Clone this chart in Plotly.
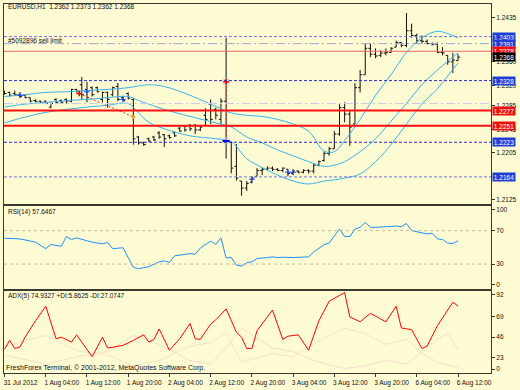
import plotly.graph_objects as go

# ---------------- data ----------------
bar_index = list(range(89))
tick_idx = [0, 8, 16, 24, 32, 40, 48, 56, 64, 72, 80, 88]
tick_text = ["31 Jul 2012", "1 Aug 04:00", "1 Aug 12:00", "1 Aug 20:00", "2 Aug 04:00",
             "2 Aug 12:00", "2 Aug 20:00", "3 Aug 04:00", "3 Aug 12:00", "3 Aug 20:00",
             "6 Aug 04:00", "6 Aug 12:00"]

opens = [1.2309, 1.2308, 1.2306, 1.2304, 1.2303, 1.2299, 1.2294, 1.2293, 1.2293, 1.2283,
         1.2296, 1.2294, 1.2296, 1.2293, 1.2313, 1.2321, 1.2313, 1.2316, 1.2316, 1.2296,
         1.2308, 1.2304, 1.2318, 1.2299, 1.2306, 1.2296, 1.2232, 1.2222, 1.2229, 1.2232,
         1.2239, 1.2236, 1.2234, 1.2239, 1.2247, 1.2251, 1.2252, 1.2252, 1.2244, 1.2269,
         1.2288, 1.2279, 1.2262, 1.2293, 1.2224, 1.2182, 1.2157, 1.2145, 1.2155, 1.2165,
         1.2175, 1.2177, 1.2179, 1.2177, 1.2175, 1.2177, 1.2170, 1.2174, 1.2172, 1.2175,
         1.2174, 1.2184, 1.2192, 1.2204, 1.2212, 1.2237, 1.2282, 1.2271, 1.2254, 1.2316,
         1.2338, 1.2383, 1.2373, 1.2371, 1.2375, 1.2376, 1.2385, 1.2393, 1.2388, 1.2413,
         1.2405, 1.2396, 1.2395, 1.2391, 1.2390, 1.2376, 1.2371, 1.2360, 1.2362]
highs = [1.2311, 1.2309, 1.2311, 1.2308, 1.2304, 1.2299, 1.2296, 1.2294, 1.2294, 1.2291,
         1.2298, 1.2296, 1.2298, 1.2314, 1.2314, 1.2334, 1.2326, 1.2318, 1.2318, 1.2309,
         1.2309, 1.2318, 1.2324, 1.2301, 1.2308, 1.2298, 1.2234, 1.2224, 1.2231, 1.2234,
         1.2242, 1.2237, 1.2236, 1.2241, 1.2249, 1.2252, 1.2254, 1.2254, 1.2251, 1.2281,
         1.2296, 1.2282, 1.2298, 1.2401, 1.2224, 1.2220, 1.2157, 1.2157, 1.2165, 1.2179,
         1.2180, 1.2182, 1.2182, 1.2179, 1.2180, 1.2177, 1.2177, 1.2175, 1.2177, 1.2177,
         1.2187, 1.2192, 1.2207, 1.2215, 1.2242, 1.2288, 1.2291, 1.2276, 1.2324, 1.2346,
         1.2391, 1.2391, 1.2383, 1.2380, 1.2383, 1.2385, 1.2396, 1.2393, 1.2443, 1.2425,
         1.2408, 1.2405, 1.2398, 1.2393, 1.2393, 1.2385, 1.2371, 1.2375, 1.2373]
lows = [1.2304, 1.2301, 1.2303, 1.2299, 1.2298, 1.2291, 1.2291, 1.2289, 1.2288, 1.2281,
        1.2288, 1.2289, 1.2289, 1.2291, 1.2308, 1.2296, 1.2291, 1.2301, 1.2308, 1.2291,
        1.2282, 1.2301, 1.2293, 1.2293, 1.2296, 1.2219, 1.2219, 1.2217, 1.2224, 1.2225,
        1.2229, 1.2215, 1.2229, 1.2232, 1.2241, 1.2241, 1.2242, 1.2237, 1.2242, 1.2252,
        1.2254, 1.2262, 1.2254, 1.2195, 1.2170, 1.2158, 1.2132, 1.2140, 1.2153, 1.2165,
        1.2167, 1.2175, 1.2174, 1.2174, 1.2172, 1.2165, 1.2167, 1.2170, 1.2170, 1.2170,
        1.2170, 1.2182, 1.2190, 1.2200, 1.2212, 1.2234, 1.2257, 1.2217, 1.2254, 1.2308,
        1.2338, 1.2368, 1.2366, 1.2368, 1.2371, 1.2375, 1.2385, 1.2385, 1.2385, 1.2401,
        1.2391, 1.2391, 1.2390, 1.2388, 1.2375, 1.2371, 1.2355, 1.2341, 1.2362]
closes = [1.2306, 1.2303, 1.2304, 1.2301, 1.2299, 1.2293, 1.2293, 1.2291, 1.2289, 1.2289,
          1.2291, 1.2291, 1.2293, 1.2313, 1.2309, 1.2304, 1.2299, 1.2304, 1.2309, 1.2308,
          1.2296, 1.2316, 1.2296, 1.2294, 1.2298, 1.2229, 1.2222, 1.2219, 1.2225, 1.2227,
          1.2232, 1.2229, 1.2231, 1.2234, 1.2242, 1.2244, 1.2246, 1.2244, 1.2249, 1.2262,
          1.2262, 1.2269, 1.2293, 1.2225, 1.2179, 1.2162, 1.2145, 1.2153, 1.2162, 1.2175,
          1.2177, 1.2179, 1.2177, 1.2175, 1.2179, 1.2170, 1.2174, 1.2172, 1.2175, 1.2174,
          1.2184, 1.2190, 1.2204, 1.2212, 1.2237, 1.2282, 1.2271, 1.2249, 1.2316, 1.2338,
          1.2383, 1.2373, 1.2370, 1.2375, 1.2376, 1.2383, 1.2393, 1.2388, 1.2413, 1.2405,
          1.2396, 1.2395, 1.2391, 1.2390, 1.2376, 1.2375, 1.2360, 1.2363, 1.2368]

# Bollinger bands, read at selected bars
bb_idx = [0, 4, 8, 12, 16, 20, 24, 26, 28, 31, 36, 41, 44, 47, 50, 53, 56, 59, 62, 64,
          66, 69, 72, 75, 78, 81, 84, 86, 88]
bb_upper = [1.2301, 1.2304, 1.2308, 1.2309, 1.2311, 1.2313, 1.2316, 1.2319, 1.2321, 1.2318,
            1.2303, 1.2284, 1.2273, 1.2269, 1.2267, 1.2262, 1.2254, 1.2242, 1.2208, 1.2207,
            1.2226, 1.2262, 1.2303, 1.2338, 1.2376, 1.2401, 1.2412, 1.2408, 1.2401]
bb_mid = [1.2283, 1.2288, 1.2291, 1.2294, 1.2296, 1.2299, 1.2301, 1.2294, 1.2288, 1.2279,
          1.2267, 1.2256, 1.2249, 1.2232, 1.2222, 1.2210, 1.2200, 1.2190, 1.2182, 1.2184,
          1.2190, 1.2207, 1.2229, 1.2259, 1.2289, 1.2321, 1.2346, 1.2361, 1.2375]
bb_lower = [1.2256, 1.2266, 1.2274, 1.2279, 1.2283, 1.2286, 1.2289, 1.2273, 1.2257, 1.2246,
            1.2234, 1.2229, 1.2224, 1.2195, 1.2180, 1.2167, 1.2157, 1.2152, 1.2157, 1.2159,
            1.2162, 1.2169, 1.2190, 1.2219, 1.2254, 1.2288, 1.2314, 1.2336, 1.2358]

rsi_idx = [0, 3, 6, 8, 9, 11, 12, 13, 14, 17, 19, 20, 21, 22, 23, 25, 26, 28, 30, 31, 32, 33,
           35, 36, 37, 38, 40, 41, 42, 43, 44, 45, 46, 47, 48, 49, 51, 52, 53, 54, 56, 59, 60,
           61, 62, 63, 65, 66, 67, 68, 69, 70, 71, 72, 74, 76, 77, 78, 79, 80, 81, 82, 83, 84,
           85, 86, 87, 88]
rsi_val = [60.9, 60.1, 56.2, 48.4, 53.5, 51.2, 62.9, 59.4, 61.3, 56.2, 54.2, 55.9, 48.4, 49.2,
           49.5, 26.0, 24.5, 26.8, 32.7, 33.9, 31.9, 39.8, 41.3, 42.5, 41.8, 49.2, 57.4, 53.5,
           61.3, 37.4, 37.8, 28.8, 27.6, 31.5, 32.7, 36.6, 37.8, 38.6, 37.8, 38.2, 37.8, 38.6,
           44.5, 48.4, 53.1, 55.1, 71.9, 62.9, 62.9, 71.9, 73.9, 79.8, 73.9, 73.9, 74.7, 75.4,
           74.7, 78.6, 70.0, 68.8, 68.0, 66.0, 66.8, 60.1, 59.4, 55.1, 54.7, 57.6]
rsi_levels = [70, 30]

adx_idx = [0, 1, 2, 3, 4, 6, 8, 10, 11, 13, 14, 17, 19, 20, 21, 23, 25, 27, 28, 29, 30, 32,
           34, 36, 37, 38, 40, 41, 43, 45, 46, 47, 48, 49, 52, 54, 55, 57, 59, 61, 63, 66, 67,
           69, 71, 74, 76, 77, 79, 81, 82, 84, 87, 88]
adx_val = [26.6, 36.5, 27.4, 29.1, 40.1, 58.4, 74.8, 38.3, 40.1, 34.6, 42.7, 18.2, 40.1, 28.0,
           28.8, 31.0, 36.5, 42.7, 34.6, 37.6, 49.3, 25.5, 38.3, 55.4, 38.3, 37.6, 54.8, 59.5,
           71.8, 45.6, 40.1, 27.4, 27.4, 47.4, 70.4, 37.6, 41.2, 42.7, 25.5, 58.4, 80.3, 90.1,
           62.8, 57.3, 66.8, 57.3, 74.8, 50.4, 48.5, 27.4, 30.2, 52.9, 79.2, 74.9]
pdi_idx = [0, 8, 14, 20, 25, 30, 36, 40, 43, 46, 52, 56, 60, 63, 66, 70, 74, 78, 81, 84, 88]
pdi_val = [30, 42, 25, 20, 8, 14, 30, 34, 45, 12, 22, 18, 33, 42, 50, 44, 32, 38, 22, 12, 5.9]
mdi_idx = [0, 8, 14, 20, 25, 30, 36, 40, 43, 46, 52, 56, 60, 63, 66, 70, 74, 78, 81, 84, 86, 88]
mdi_val = [20, 10, 18, 24, 42, 32, 14, 10, 28, 50, 28, 24, 14, 9, 5, 8, 14, 10, 24, 38, 44, 27.1]

# trade history marks
trade_open_idx = [14.5, 43]
trade_open_px = [1.2306, 1.2326]
trade_close_idx = [25, 43]
trade_close_px = [1.2266, 1.2225]
blue_mark_idx = [3, 16, 23, 48, 55, 56]
blue_mark_px = [1.2303, 1.2309, 1.2296, 1.2160, 1.2172, 1.2172]

# horizontal order / level lines
blue_dark_levels = [1.2328, 1.2223]
blue_light_levels = [1.2403, 1.2164]
sell_limit_level = 1.2391
ghost_level = 1.2289
red_thin_level = 1.2378
red_thick_levels = [1.2277, 1.2251]
last_price = 1.2368

price_ticks = [1.2435, 1.2360, 1.2320, 1.2285, 1.2245, 1.2205, 1.2125]

# ---------------- styling ----------------
W, H = 520, 390
ML, MR, MT, MB = 3, 26, 3, 12
BG = "#fffbd3"
FONT = "Liberation Sans, Arial, sans-serif"
FS = 6.5
BORDER = "#3a3a30"
BB = "#36b4ec"


def py(p):
    return (H - MB - p) / (H - MT - MB)


def px(p):
    return (p - ML) / (W - ML - MR)


fig = go.Figure()

# Bollinger bands
for arr in (bb_upper, bb_mid, bb_lower):
    fig.add_trace(go.Scatter(x=bb_idx, y=arr, mode="lines", xaxis="x", yaxis="y",
                             line=dict(color=BB, width=1, shape="spline", smoothing=1.0),
                             hoverinfo="skip", showlegend=False))

# price bars
fig.add_trace(go.Ohlc(x=bar_index, open=opens, high=highs, low=lows, close=closes,
                      xaxis="x", yaxis="y", tickwidth=0.4,
                      increasing=dict(line=dict(color="#111111", width=1)),
                      decreasing=dict(line=dict(color="#111111", width=1)),
                      hoverinfo="skip", showlegend=False))

# trade lines and arrows
for i in range(len(trade_open_idx)):
    fig.add_trace(go.Scatter(x=[trade_open_idx[i], trade_close_idx[i]],
                             y=[trade_open_px[i], trade_close_px[i]],
                             mode="lines", xaxis="x", yaxis="y",
                             line=dict(color="#ff3030", width=1, dash="2px,2px"),
                             hoverinfo="skip", showlegend=False))
fig.add_trace(go.Scatter(x=[trade_open_idx[1], trade_close_idx[1]],
                         y=[trade_open_px[1], trade_close_px[1]], mode="markers",
                         xaxis="x", yaxis="y",
                         marker=dict(symbol="circle", size=8, color="rgba(200,200,200,0.5)"),
                         hoverinfo="skip", showlegend=False))
fig.add_trace(go.Scatter(x=trade_open_idx, y=trade_open_px, mode="markers", xaxis="x", yaxis="y",
                         marker=dict(symbol="cross-thin", size=4, line=dict(color="#ff0000", width=1.5)),
                         hoverinfo="skip", showlegend=False))
fig.add_trace(go.Scatter(x=[trade_close_idx[0]], y=[trade_close_px[0]], mode="markers",
                         xaxis="x", yaxis="y",
                         marker=dict(symbol="triangle-right", size=5, color="#e8a030"),
                         hoverinfo="skip", showlegend=False))
fig.add_trace(go.Scatter(x=[trade_close_idx[1]], y=[trade_close_px[1]], mode="markers",
                         xaxis="x", yaxis="y",
                         marker=dict(symbol="line-ew", size=5, line=dict(color="#0000ff", width=2)),
                         hoverinfo="skip", showlegend=False))
fig.add_trace(go.Scatter(x=blue_mark_idx, y=blue_mark_px, mode="markers", xaxis="x", yaxis="y",
                         marker=dict(symbol="cross-thin", size=4, line=dict(color="#2040ff", width=1)),
                         hoverinfo="skip", showlegend=False))

# RSI
fig.add_trace(go.Scatter(x=rsi_idx, y=rsi_val, mode="lines", xaxis="x2", yaxis="y2",
                         line=dict(color="#1e90ff", width=1), hoverinfo="skip", showlegend=False))

# ADX and DI lines
fig.add_trace(go.Scatter(x=pdi_idx, y=pdi_val, mode="lines", xaxis="x3", yaxis="y3",
                         line=dict(color="#f6e2c6", width=1), hoverinfo="skip", showlegend=False))
fig.add_trace(go.Scatter(x=mdi_idx, y=mdi_val, mode="lines", xaxis="x3", yaxis="y3",
                         line=dict(color="#f7dccc", width=1), hoverinfo="skip", showlegend=False))
fig.add_trace(go.Scatter(x=adx_idx, y=adx_val, mode="lines", xaxis="x3", yaxis="y3",
                         line=dict(color="#ff0000", width=1), hoverinfo="skip", showlegend=False))

shapes = []


def hline(yv, color, width=1, dash="solid", xref="x domain", yref="y"):
    shapes.append(dict(type="line", xref=xref, yref=yref, x0=0, x1=1, y0=yv, y1=yv,
                       line=dict(color=color, width=width, dash=dash), layer="above"))


for lv in blue_light_levels:
    hline(lv, "#7272e0", 1, "3px,2px")
for lv in blue_dark_levels:
    hline(lv, "#2a2ad0", 1, "3px,2px")
hline(sell_limit_level, "#9aa6d4", 1, "9px,3px,2px,3px")
hline(ghost_level, "#c9cde6", 1, "9px,3px,2px,3px")
hline(red_thin_level, "#e86868", 1)
for lv in red_thick_levels:
    hline(lv, "#ff1010", 2)
for lv in rsi_levels:
    hline(lv, "#c4bb9c", 1, "3px,3px", xref="x2 domain", yref="y2")

annotations = []


def box(yv, color):
    annotations.append(dict(xref="paper", yref="y", x=1, y=yv, xanchor="left", yanchor="middle",
                            xshift=1, text="%.4f" % yv, showarrow=False, bgcolor=color,
                            width=22, height=8, borderpad=0,
                            font=dict(family=FONT, size=FS, color="white")))


for lv in blue_light_levels + blue_dark_levels + [sell_limit_level]:
    box(lv, "#1f3ed8")
for lv in red_thick_levels + [red_thin_level]:
    box(lv, "#ee1010")
box(last_price, "#000000")


def label(x_px, y_px, text, size=FS):
    annotations.append(dict(xref="paper", yref="paper", x=px(x_px), y=py(y_px), xanchor="left",
                            yanchor="middle", text=text, showarrow=False,
                            font=dict(family=FONT, size=size, color="#101010")))


label(5, 6, "EURUSD,H1  1.2362 1.2373 1.2362 1.2368")
label(5, 40, "#5092896 sell limit")
label(5, 214, "RSI(14) 57.6467")
label(5, 300, "ADX(5) 74.9327 +DI:5.8625 -DI:27.0747")
label(3, 373, "FreshForex Terminal, © 2001-2012, MetaQuotes Software Corp.", 7)

xcommon = dict(range=[-0.1, 94.4], showgrid=False, zeroline=False, showline=True, mirror=True,
               linecolor=BORDER, linewidth=1)
ycommon = dict(showgrid=False, zeroline=False, showline=True, mirror=True, linecolor=BORDER,
               linewidth=1, side="right", ticks="outside", ticklen=3, tickcolor=BORDER,
               tickfont=dict(family=FONT, size=FS, color="#101010"))

fig.update_layout(
    width=W, height=H, margin=dict(l=ML, r=MR, t=MT, b=MB),
    paper_bgcolor=BG, plot_bgcolor=BG, showlegend=False,
    font=dict(family=FONT, size=FS, color="#101010"),
    shapes=shapes, annotations=annotations,
    xaxis=dict(**xcommon, anchor="y", showticklabels=False, ticks="",
               rangeslider=dict(visible=False)),
    xaxis2=dict(**xcommon, anchor="y2", matches="x", showticklabels=False, ticks=""),
    xaxis3=dict(**xcommon, anchor="y3", matches="x", tickmode="array", tickvals=tick_idx,
                ticktext=tick_text, ticks="outside", ticklen=3, tickcolor=BORDER,
                tickfont=dict(family=FONT, size=FS, color="#101010"), ticklabelshift=16,
                tickangle=0),
    yaxis=dict(**ycommon, domain=[py(206), 1], anchor="x", range=[1.21183, 1.24585],
               tickmode="array", tickvals=price_ticks,
               ticktext=["%.4f" % v for v in price_ticks]),
    yaxis2=dict(**ycommon, domain=[py(292.8), py(207.8)], anchor="x2", range=[0, 100],
                tickmode="array", tickvals=[94.7, 70, 30, 5.3], ticktext=["100", "70", "30", "0"]),
    yaxis3=dict(**ycommon, domain=[0, py(294.3)], anchor="x3", range=[0, 92.2],
                tickmode="array", tickvals=[87.6, 62.8, 40.1, 17.5, 4.4],
                ticktext=["92", "69", "46", "23", "0"]),
)

fig.write_html("out.html", config={"displayModeBar": False},
               post_script="document.body.style.margin='0';document.body.style.overflow='hidden';"
                           "document.body.style.background='%s';" % BG)
